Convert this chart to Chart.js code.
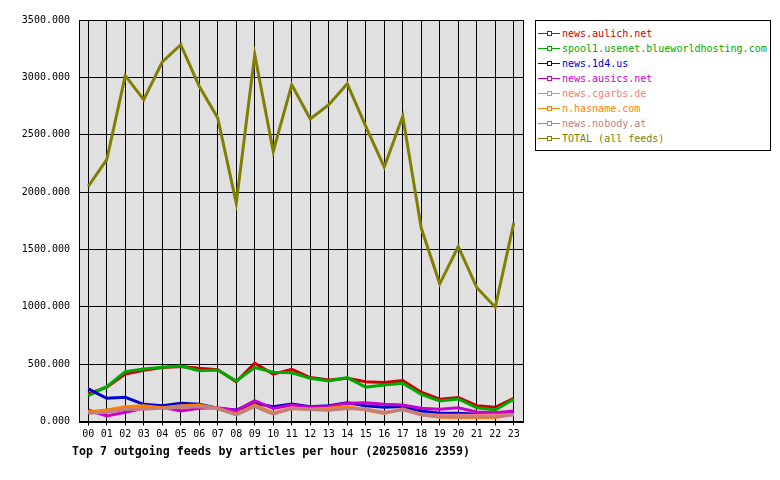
<!DOCTYPE html>
<html>
<head>
<meta charset="utf-8">
<script src="https://cdn.jsdelivr.net/npm/chart.js@4"></script>
<style>
    body { margin: 0; background: #fff; }
    #wrap { position: relative; width: 780px; height: 480px; }
    #chart { position: absolute; left: 0; top: 0; }
    #legend {
        position: absolute; left: 535px; top: 20px; width: 234px; height: 129px;
        border: 1px solid #000; background: #fff;
        font: 10px "DejaVu Sans Mono", monospace;
    }
    #legend .row { position: absolute; left: 2px; height: 15px; line-height: 15px; white-space: nowrap; }
    #legend .line { position: absolute; left: 0; top: 7px; width: 22px; height: 1px; }
    #legend .mark { position: absolute; left: 9px; top: 5px; width: 3px; height: 3px; border: 1px solid; background: #fff; }
    #legend .txt { position: absolute; left: 24px; top: 0; }
    #title {
        position: absolute; left: 72px; top: 444px;
        font: bold 11.6px "DejaVu Sans Mono", monospace; color: #000; white-space: nowrap;
    }
</style>
</head>
<body>
<div id="wrap">
    <canvas id="chart" width="780" height="480"></canvas>
    <div id="legend"></div>
    <div id="title">Top 7 outgoing feeds by articles per hour (20250816 2359)</div>
</div>
<script>
const hours = ['00','01','02','03','04','05','06','07','08','09','10','11',
               '12','13','14','15','16','17','18','19','20','21','22','23'];

const feedNames = ['news.aulich.net', 'spool1.usenet.blueworldhosting.com', 'news.1d4.us',
                   'news.ausics.net', 'news.cgarbs.de', 'n.hasname.com', 'news.nobody.at',
                   'TOTAL (all feeds)'];
const feedColors = ['#cc0000', '#00aa00', '#0000cc', '#cc00cc', '#f08080', '#ff8000', '#c08080', '#808000'];

const aulich  = [240, 300, 414, 446, 470, 480, 464, 452, 346, 508, 412, 455, 383, 362, 377, 347, 339, 356, 255, 194, 208, 138, 124, 202];
const spool1  = [225, 304, 435, 458, 473, 484, 443, 449, 353, 470, 429, 425, 377, 353, 382, 300, 318, 333, 237, 179, 196, 120, 100, 194];
const d14     = [285, 202, 211, 150, 138, 159, 150, 115, 100, 159, 129, 153, 129, 138, 164, 138, 124, 130, 92, 72, 72, 63, 63, 87];
const ausics  = [100, 48, 80, 115, 124, 92, 115, 120, 95, 181, 113, 144, 125, 130, 160, 164, 150, 144, 115, 106, 120, 83, 77, 92];
const cgarbs  = [80, 85, 110, 110, 115, 125, 130, 110, 60, 135, 75, 120, 105, 100, 115, 110, 80, 100, 65, 55, 55, 55, 55, 60];
const hasname = [86, 100, 129, 138, 120, 138, 144, 115, 63, 144, 72, 113, 110, 115, 130, 100, 70, 110, 60, 37, 35, 35, 35, 63];
const nobody  = [72, 80, 106, 109, 115, 124, 130, 115, 57, 129, 63, 113, 104, 98, 113, 107, 72, 106, 57, 42, 42, 42, 42, 57];
const total   = [2049, 2282, 3015, 2805, 3134, 3285, 2922, 2646, 1904, 3198, 2354, 2936, 2637, 2762, 2945, 2573, 2218, 2660, 1686, 1200, 1525, 1168, 996, 1729];

const series = [aulich, spool1, d14, ausics, cgarbs, hasname, nobody, total];

const yMax = 3500;
const yStep = 500;

// legend drawn as html, like the boxed legend of the original
const legendEl = document.getElementById('legend');
feedNames.forEach((name, i) => {
    const row = document.createElement('div');
    row.className = 'row';
    row.style.top = (5 + i * 15) + 'px';
    row.style.color = feedColors[i];

    const line = document.createElement('div');
    line.className = 'line';
    line.style.backgroundColor = feedColors[i];
    const mark = document.createElement('div');
    mark.className = 'mark';
    mark.style.borderColor = feedColors[i];
    const txt = document.createElement('span');
    txt.className = 'txt';
    txt.textContent = name;

    row.appendChild(line);
    row.appendChild(mark);
    row.appendChild(txt);
    legendEl.appendChild(row);
});

// grey plot background and black frame
const plotFrame = {
    id: 'plotFrame',
    beforeDraw(chart) {
        const a = chart.chartArea, c = chart.ctx;
        c.save();
        c.fillStyle = '#e0e0e0';
        c.fillRect(a.left, a.top, a.right - a.left, a.bottom - a.top);
        c.restore();
    },
    afterDraw(chart) {
        const a = chart.chartArea, c = chart.ctx;
        c.save();
        c.strokeStyle = '#000';
        c.lineWidth = 1;
        c.strokeRect(Math.round(a.left) + 0.5, Math.round(a.top) + 0.5,
                     Math.round(a.right - a.left), Math.round(a.bottom - a.top));
        c.restore();
    }
};

const ctx = document.getElementById('chart').getContext('2d');
new Chart(ctx, {
    type: 'line',
    data: {
        labels: hours,
        datasets: series.map((data, i) => ({
            label: feedNames[i],
            data: data,
            borderColor: feedColors[i],
            backgroundColor: feedColors[i],
            borderWidth: 3,
            pointRadius: 0,
            tension: 0,
            order: series.length - i
        }))
    },
    options: {
        responsive: false,
        animation: false,
        layout: { padding: { left: 0, top: 20, right: 257, bottom: 0 } },
        plugins: { legend: { display: false }, tooltip: { enabled: false } },
        scales: {
            x: {
                offset: true,
                grid: { color: '#000', lineWidth: 1, tickLength: 4, drawTicks: true },
                border: { display: true, color: '#000' },
                ticks: { color: '#000', padding: 3, maxRotation: 0, autoSkip: false,
                         font: { family: 'DejaVu Sans Mono', size: 10 } },
                afterFit: (scale) => { scale.height = 58.5; }
            },
            y: {
                min: 0,
                max: yMax,
                grid: { color: '#000', lineWidth: 1, drawTicks: false },
                border: { display: true, color: '#000' },
                ticks: { stepSize: yStep, color: '#000', padding: 9,
                         font: { family: 'DejaVu Sans Mono', size: 10 },
                         callback: (v) => v.toFixed(3) },
                afterFit: (scale) => { scale.width = 79; }
            }
        }
    },
    plugins: [plotFrame]
});
</script>
</body>
</html>
